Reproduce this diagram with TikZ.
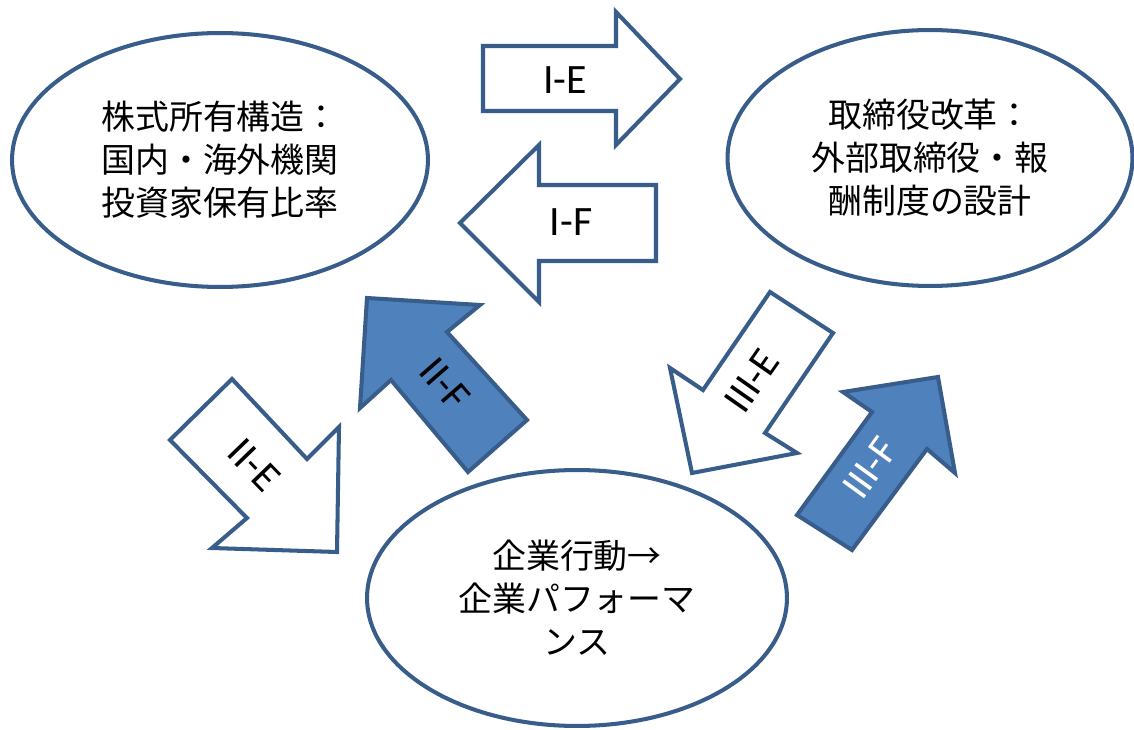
\documentclass[tikz,border=0pt]{standalone}
\usepackage{fontspec}
\setmainfont{Carlito}
\newfontfamily\jp{Noto Sans CJK JP}
\definecolor{edge}{RGB}{56,93,138}
\definecolor{fillb}{RGB}{79,129,189}
\tikzset{
  oval/.style={draw=edge, line width=2.3pt, fill=white, ellipse, inner sep=0pt, align=center,
    font=\jp\fontsize{19.3}{24.4}\selectfont},
  hollowarrow/.style={draw=edge, line width=2.3pt, fill=white, line join=miter},
  solidarrow/.style={draw=edge, line width=2.3pt, fill=fillb, line join=miter},
  lab/.style={font=\fontsize{23.8}{28}\selectfont, inner sep=0pt},
}
\usetikzlibrary{shapes.geometric}
\begin{document}
\begin{tikzpicture}[x=0.02cm, y=-0.02cm]
\useasboundingbox (0,0) rectangle (1134,730);
% ellipses
\node[oval, minimum width=8.32cm, minimum height=5.08cm] (own) at (220,160)
  {株式所有構造：\\国内・海外機関\\投資家保有比率};
\node[oval, minimum width=8.1cm, minimum height=5.12cm] (board) at (930,158)
  {取締役改革：\\外部取締役・報\\酬制度の設計};
\node[oval, minimum width=8.4cm, minimum height=5.12cm] (perf) at (577,598)
  {企業行動→\\企業パフォーマ\\ンス};
% I-E
\draw[hollowarrow] (483,46) -- (616,46) -- (616,12) -- (680,79) -- (616,145) -- (616,111) -- (483,111) -- cycle;
\node[lab] (ie) at (565,80) {I-E};
% I-F
\draw[hollowarrow] (460,223) -- (539,145) -- (539,185) -- (656,185) -- (656,261) -- (539,261) -- (539,302) -- cycle;
\node[lab] (if) at (571,222) {I-F};
% II-F
\draw[solidarrow] (367,298) -- (480,305) -- (447,332) -- (527,420) -- (468,472) -- (391,380) -- (360,408) -- cycle;
\node[lab, rotate=-49] (iif) at (445,384) {II-F};
% II-E
\draw[hollowarrow] (232,379) -- (307,459) -- (339,427) -- (337,552) -- (212,548) -- (247,518) -- (170,440) -- cycle;
\node[lab, rotate=-46] (iie) at (254,465) {II-E};
% III-E
\draw[hollowarrow] (770,292) -- (833,333) -- (765,433) -- (797,453) -- (692,473) -- (670,368) -- (703,390) -- cycle;
\node[lab, rotate=55] (iiie) at (752,381) {III-E};
% III-F
\draw[solidarrow] (938,377) -- (955,473) -- (927,449) -- (852,550) -- (797,515) -- (872,412) -- (843,392) -- cycle;
\node[lab, rotate=54, text=white] (iiif) at (870,468) {III-F};
\end{tikzpicture}
\end{document}
